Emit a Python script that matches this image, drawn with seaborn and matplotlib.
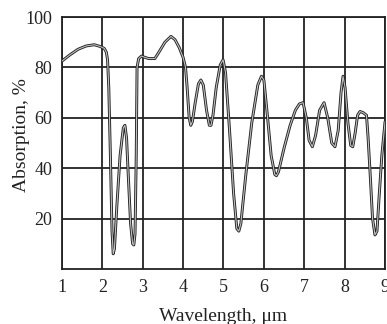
"""Absorption spectrum vs wavelength."""
import pandas as pd
import matplotlib
matplotlib.use("Agg")
import matplotlib.pyplot as plt
import seaborn as sns

wavelength = [
    1.0, 1.2, 1.4, 1.6, 1.8, 1.95, 2.05, 2.1, 2.13, 2.16, 2.2, 2.24, 2.27, 2.3,
    2.36, 2.44, 2.52, 2.56, 2.6, 2.64, 2.7, 2.75, 2.78, 2.81, 2.84, 2.86, 2.9,
    2.97, 3.05, 3.15, 3.3, 3.4, 3.55, 3.7, 3.8, 3.9, 4.0, 4.06, 4.1, 4.15, 4.19,
    4.23, 4.3, 4.38, 4.44, 4.5, 4.58, 4.65, 4.69, 4.74, 4.82, 4.92, 4.99, 5.05,
    5.15, 5.25, 5.33, 5.38, 5.43, 5.55, 5.7, 5.85, 5.94, 6.0, 6.08, 6.18, 6.27,
    6.31, 6.36, 6.5, 6.65, 6.78, 6.88, 6.97, 7.05, 7.12, 7.2, 7.28, 7.38, 7.49,
    7.58, 7.68, 7.76, 7.84, 7.91, 7.96, 8.01, 8.08, 8.15, 8.2, 8.26, 8.32, 8.38,
    8.46, 8.54, 8.58, 8.63, 8.69, 8.75, 8.8, 8.85, 8.92, 9.0,
]
absorption = [
    82.5, 85, 87.2, 88.5, 89, 88.3, 87.5, 86, 83, 72, 45, 15, 6, 8,
    25, 45, 56, 57, 52, 38, 18, 10, 9.5, 14, 45, 80, 83.5,
    84.5, 84, 83.5, 83.5, 86, 90, 92.3, 91, 88, 84, 80, 72, 60, 57,
    58.5, 66, 73.5, 75, 73, 63, 57, 57, 61, 72, 81, 83, 78,
    55, 30, 16, 15, 18, 37, 58, 73, 76.5, 75, 62, 45, 37.5,
    37, 38.5, 48, 57, 63, 65.5, 66, 60, 51, 48.5, 53, 63, 66,
    60, 50, 48.5, 55, 70, 76.5, 72, 58, 49, 48.5, 54, 61, 62.5,
    62, 61, 52, 38, 20, 13.5, 15, 28, 45, 58.5,
]
x_ticks = [1, 2, 3, 4, 5, 6, 7, 8, 9]
y_ticks = [20, 40, 60, 80, 100]

sns.set_style("white")
plt.rcParams["font.family"] = ["Liberation Serif", "DejaVu Serif"]

df = pd.DataFrame({"wavelength": wavelength, "absorption": absorption})

fig = plt.figure(figsize=(3.87, 3.24), dpi=100)
ax = fig.add_axes([0.160, 0.170, 0.835, 0.7775])

# outline-then-fill gives the doubled look of the scanned trace
sns.lineplot(data=df, x="wavelength", y="absorption", ax=ax,
             color="#222222", linewidth=2.1, sort=False, zorder=3)
sns.lineplot(data=df, x="wavelength", y="absorption", ax=ax,
             color="#c0c0c0", linewidth=0.8, sort=False, zorder=4)

ax.set_xlim(1, 9)
ax.set_ylim(0, 100)
ax.set_xticks(x_ticks)
ax.set_yticks(y_ticks)
ax.grid(True, color="#222222", linewidth=1.3)
ax.set_axisbelow(True)
for s in ax.spines.values():
    s.set_color("#222222")
    s.set_linewidth(1.3)
ax.tick_params(length=0, labelsize=13, colors="#222222")
ax.tick_params(axis="y", pad=7)
ax.tick_params(axis="x", pad=7)
ax.set_xlabel("Wavelength, μm", fontsize=14, color="#222222")
ax.set_ylabel("Absorption, %", fontsize=14, color="#222222")
ax.xaxis.set_label_coords(0.5, -0.155)
ax.yaxis.set_label_coords(-0.10, 0.532)

fig.savefig("out.png", dpi=100)
